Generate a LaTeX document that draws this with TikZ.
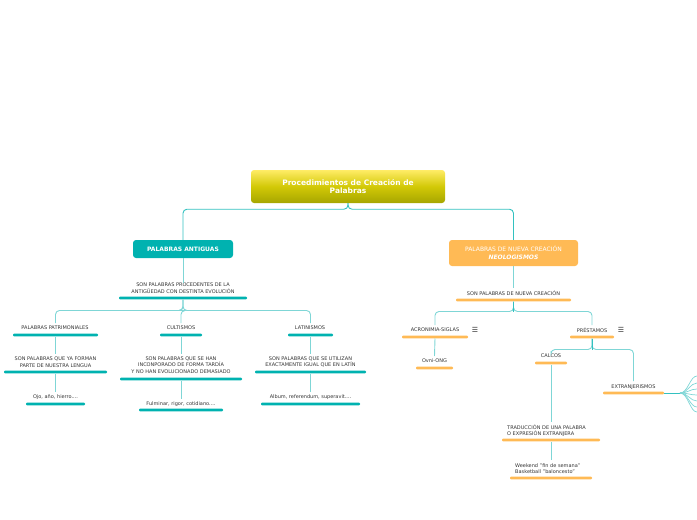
\documentclass[tikz,border=0pt]{standalone}
\usepackage{fontspec}
\setmainfont{DejaVu Sans}
\usetikzlibrary{shadings}
\definecolor{tl}{HTML}{00B2B0}
\definecolor{tline}{HTML}{7FD6D6}
\definecolor{og}{HTML}{FFBA55}
\definecolor{txt}{HTML}{333333}
\tikzset{
 lbl/.style={inner sep=0pt,text=txt,font=\fontsize{5}{6.6}\selectfont,align=center},
 tbar/.style={fill=tl,draw=none,rounded corners=1pt,minimum height=2.6pt,inner sep=0pt},
 obar/.style={fill=og,draw=none,rounded corners=1pt,minimum height=2.6pt,inner sep=0pt},
 con/.style={draw=tline,line width=0.9pt,rounded corners=4pt},
}
\begin{document}
\begin{tikzpicture}[x=1pt,y=-1pt]
\useasboundingbox (0,0) rectangle (697,520);
% root
\node[top color=yellow!75!orange!60,bottom color=olive!70!yellow,rounded corners=3pt,minimum width=194pt,minimum height=33pt,inner sep=0pt,text=white,font=\fontsize{7.5}{8.5}\selectfont\bfseries,align=center] (root) at (348,186.5) {Procedimientos de Creación de\\Palabras};
\node[fill=tl,rounded corners=3pt,minimum width=100pt,minimum height=18pt,inner sep=0pt,text=white,font=\fontsize{6}{7}\selectfont\bfseries] (ant) at (183,249) {PALABRAS ANTIGUAS};
\node[fill=og,rounded corners=3pt,minimum width=129pt,minimum height=26pt,inner sep=0pt,text=white,font=\fontsize{6}{7.5}\selectfont,align=center] (neo) at (513.5,253) {PALABRAS DE NUEVA CREACIÓN\\\textbf{\textit{NEOLOGISMOS}}};
\draw[con,draw=tl!80] (root.south) -- ++(0,6) -| (ant.north);
\draw[con,draw=tl!80] (root.south) -- ++(0,6) -| (neo.north);
% left
\node[lbl] at (183,288) {SON PALABRAS PROCEDENTES DE LA\\ANTIGÜEDAD CON DESTINTA EVOLUCIÓN};
\node[tbar,minimum width=128pt] (a1) at (183,298) {};
\draw[con] (ant.south) -- (183,283);
\node[lbl] at (55,328) {PALABRAS PATRIMONIALES};
\node[tbar,minimum width=85pt] (p1) at (55.5,335) {};
\node[lbl] at (181,328) {CULTISMOS};
\node[tbar,minimum width=42pt] (c1) at (181,335) {};
\node[lbl] at (310,328) {LATINISMOS};
\node[tbar,minimum width=45pt] (l1) at (310.5,335) {};
\draw[con] (a1.south) -- ++(0,11) -| (55.5,323);
\draw[con] (a1.south) -- ++(0,11) -| (181,323);
\draw[con] (a1.south) -- ++(0,11) -| (310.5,323);
\node[lbl] at (55.5,362) {SON PALABRAS QUE YA FORMAN\\PARTE DE NUESTRA LENGUA};
\node[tbar,minimum width=103pt] (p2) at (55.5,372) {};
\node[lbl] at (181,365) {SON PALABRAS QUE SE HAN\\INCONPORADO DE FORMA TARDÍA\\Y NO HAN EVOLUCIONADO DEMASIADO};
\node[tbar,minimum width=122pt] (c2) at (181,379) {};
\node[lbl] at (310.5,362) {SON PALABRAS QUE SE UTILIZAN\\EXACTAMENTE IGUAL QUE EN LATÍN};
\node[tbar,minimum width=111pt] (l2) at (310.5,372) {};
\draw[con] (p1.south) -- (55.5,354);
\draw[con] (c1.south) -- (181,354);
\draw[con] (l1.south) -- (310.5,354);
\node[lbl] at (55.5,397) {Ojo, año, hierro....};
\node[tbar,minimum width=59pt] (p3) at (55.5,404) {};
\node[lbl] at (181,404) {Fulminar, rigor, cotidiano....};
\node[tbar,minimum width=84pt] (c3) at (181,410) {};
\node[lbl] at (310.5,397) {Album, referendum, superavit....};
\node[tbar,minimum width=99pt] (l3) at (310.5,404) {};
\draw[con] (p2.south) -- (55.5,392);
\draw[con] (c2.south) -- (181,399);
\draw[con] (l2.south) -- (310.5,392);
% right
\node[lbl] at (513.5,293) {SON PALABRAS DE NUEVA CREACIÓN};
\node[obar,minimum width=115pt] (n1) at (513.5,300) {};
\draw[con] (neo.south) -- (513.5,288);
\node[lbl] at (435,330) {ACRONIMIA-SIGLAS};
\node[obar,minimum width=66pt] (ac) at (435,337) {};
\node[text=txt,font=\fontsize{7}{7}\selectfont,inner sep=0pt] (ic1) at (475,330) {☰};
\node[lbl] at (592,330) {PRÉSTAMOS};
\node[obar,minimum width=44pt] (pr) at (592,337) {};
\node[text=txt,font=\fontsize{7}{7}\selectfont,inner sep=0pt] (ic2) at (621,330) {☰};
\draw[con] (n1.south) -- ++(0,10) -| (435,325);
\draw[con] (n1.south) -- ++(0,10) -| (592,325);
\draw[con,draw=tl!80] (n1.south) -- ++(0,10);
\node[lbl] at (434.5,361) {Ovni-ONG};
\node[obar,minimum width=37pt] (ov) at (434.5,368) {};
\draw[con] (ac.south) -- (434.5,356);
\node[lbl] at (551,356) {CALCOS};
\node[obar,minimum width=32pt] (ca) at (551,363) {};
\node[lbl] at (633.5,387) {EXTRANJERISMOS};
\node[obar,minimum width=61pt] (ex) at (633.5,393) {};
\draw[con] (pr.south) -- ++(0,11) -| (551,351);
\draw[con] (pr.south) -- ++(0,11) -| (633.5,381);
\draw[con,draw=tl!80] (pr.south) -- ++(0,11);
\node[lbl,align=left,anchor=west] at (507,430.5) {TRADUCCIÓN DE UNA PALABRA\\O EXPRESIÓN EXTRANJERA};
\node[obar,minimum width=98pt] (tr) at (551,440) {};
\draw[con] (ca.south) -- (551,422);
\node[lbl,align=left,anchor=west] at (515,468.5) {Weekend "fin de semana"\\Basketball "baloncesto"};
\node[obar,minimum width=82pt] (we) at (551,478) {};
\draw[con] (tr.south) -- (551,460);
% fan
\coordinate (fo) at (680,393);
\draw[draw=tl!80,line width=0.9pt] (ex.east) -- (fo);
\foreach \yy in {376,383,389,395,401,407,412}
  \draw[draw=tline,line width=0.7pt] (fo) .. controls (688,393) and (690,\yy) .. (697,\yy);
\end{tikzpicture}
\end{document}
